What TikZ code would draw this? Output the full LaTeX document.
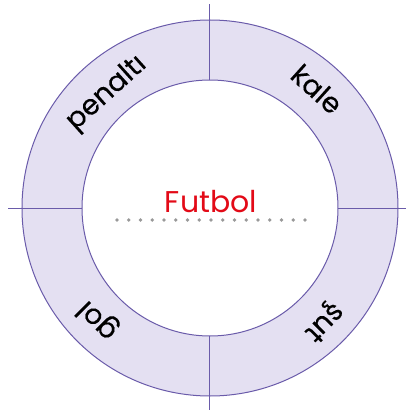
\documentclass[tikz,border=0pt]{standalone}
\usepackage{fontspec}
\setmainfont{Poppins}
\newfontfamily\wordfont[FakeBold=0.3]{Poppins}
\definecolor{ringfill}{HTML}{E4E0F2}
\definecolor{ringline}{HTML}{6A5BAA}
\definecolor{titlered}{HTML}{E30A17}
\definecolor{dotgray}{HTML}{999999}
\tikzset{
  ringword/.style={font=\wordfont\fontsize{28}{28}\selectfont, text=black, inner sep=0pt},
  divider/.style={draw=ringline, line width=1pt},
}
\begin{document}
\begin{tikzpicture}[x=1pt,y=1pt]
\useasboundingbox (-210,-202) rectangle (196,208);
\coordinate (c) at (0,0);
\fill[ringfill] (c) circle (188);
\draw[divider] (c) circle (188);
\draw[divider, fill=white] (c) circle (128);
\coordinate (t1) at (0,128); \coordinate (t2) at (0,204);
\coordinate (b1) at (0,-128); \coordinate (b2) at (0,-202);
\coordinate (l1) at (-128,0); \coordinate (l2) at (-202,0);
\coordinate (r1) at (128,0); \coordinate (r2) at (196,0);
\draw[divider] (t1) -- (t2);
\draw[divider] (b1) -- (b2);
\draw[divider] (l1) -- (l2);
\draw[divider] (r1) -- (r2);
\node[ringword, rotate=42] (penalti) at (132:154) {penaltı};
\node[ringword, rotate=-42] (kale) at (48:160) {kale};
\node[ringword, rotate=135] (gol) at (225:158) {gol};
\node[ringword, rotate=-135] (sut) at (-45:160) {şut};
\node[anchor=base, text=titlered, font=\fontsize{30}{30}\selectfont, inner sep=0pt] (futbol) at (1,-4.7) {Futbol};
\foreach \i in {0,...,16} {
  \fill[dotgray] (-93+\i*11.75,-12) circle (1.9);
}
\end{tikzpicture}
\end{document}
